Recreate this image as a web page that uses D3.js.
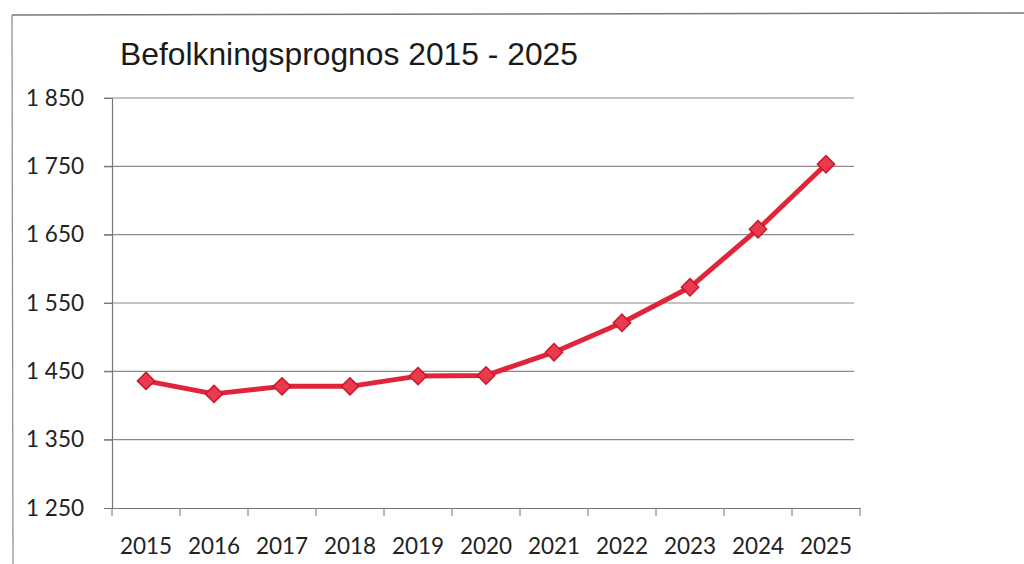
<!DOCTYPE html>
<html>
<head>
<meta charset="utf-8">
<script src="https://cdn.jsdelivr.net/npm/d3@7"></script>
<style>
  body { margin: 0; background: #fff; }
  .tick text { font-family: Lato, "Open Sans", sans-serif; font-size: 22.5px; fill: #222; }
</style>
</head>
<body>
<div id="chart"></div>
<script>
// Data
const years = ['2015', '2016', '2017', '2018', '2019', '2020', '2021', '2022', '2023', '2024', '2025'];
const population = [1436, 1417, 1428, 1428, 1443, 1444, 1478, 1521, 1573, 1658, 1753];
const yTicks = [1250, 1350, 1450, 1550, 1650, 1750, 1850];

const width = 1024, height = 564;
const margin = { top: 98, right: 164, bottom: 56, left: 112 };
const innerW = width - margin.left - margin.right;
const innerH = height - margin.top - margin.bottom;

const svg = d3.select('#chart').append('svg')
  .attr('width', width)
  .attr('height', height);

// Outer frame of the scanned chart
svg.append('line').attr('x1', 12).attr('y1', 15).attr('x2', 1024).attr('y2', 13)
  .attr('stroke', '#777').attr('stroke-width', 1.5);
svg.append('line').attr('x1', 12).attr('y1', 15).attr('x2', 13).attr('y2', 564)
  .attr('stroke', '#888').attr('stroke-width', 1.2);

const g = svg.append('g').attr('transform', `translate(${margin.left}, ${margin.top})`);

const xScale = d3.scaleBand().domain(years).range([0, innerW]);
const yScale = d3.scaleLinear().domain([1250, 1850]).range([innerH, 0]);

// Gridlines
g.selectAll('.grid')
  .data(yTicks.slice(1))
  .enter()
  .append('line')
  .attr('x1', -8)
  .attr('x2', innerW - 6)
  .attr('y1', (d) => yScale(d))
  .attr('y2', (d) => yScale(d))
  .attr('stroke', '#8a8a8a')
  .attr('stroke-width', 1.2);

// Y axis
const yAxis = g.append('g')
  .call(d3.axisLeft(yScale).tickValues(yTicks).tickSize(8).tickPadding(20)
    .tickFormat((d) => d3.format(',')(d).replace(',', '\u00a0')));
yAxis.select('.domain').attr('stroke', '#777').attr('stroke-width', 1.2);
yAxis.selectAll('.tick line').attr('stroke', '#777');

// X axis with ticks on band boundaries
const xAxis = g.append('g')
  .attr('transform', `translate(0, ${innerH})`)
  .call(d3.axisBottom(xScale).tickSize(0).tickPadding(30));
xAxis.select('.domain').attr('stroke', '#777').attr('stroke-width', 1.2);
xAxis.selectAll('.bound')
  .data(years.concat(['end']))
  .enter()
  .append('line')
  .attr('x1', (d, i) => i * xScale.step())
  .attr('x2', (d, i) => i * xScale.step())
  .attr('y1', 0)
  .attr('y2', 8)
  .attr('stroke', '#777');

// Line
const points = years.map((y, i) => ({ year: y, value: population[i] }));
const line = d3.line()
  .x((d) => xScale(d.year) + xScale.bandwidth() / 2)
  .y((d) => yScale(d.value));

g.append('path')
  .datum(points)
  .attr('d', line)
  .attr('fill', 'none')
  .attr('stroke', '#e0243a')
  .attr('stroke-width', 5)
  .attr('stroke-linejoin', 'round');

// Diamond markers
g.selectAll('.marker')
  .data(points)
  .enter()
  .append('path')
  .attr('d', d3.symbol().type(d3.symbolDiamond2).size(190))
  .attr('transform', (d) => `translate(${xScale(d.year) + xScale.bandwidth() / 2}, ${yScale(d.value)})`)
  .attr('fill', '#ea3b4e')
  .attr('stroke', '#c8182c')
  .attr('stroke-width', 1.5);

// Title
svg.append('text')
  .attr('x', 120)
  .attr('y', 65)
  .style('font-family', '"Liberation Sans", Arial, sans-serif')
  .style('font-size', '32px')
  .style('fill', '#1a1a1a')
  .attr('textLength', 458)
  .attr('lengthAdjust', 'spacingAndGlyphs')
  .text('Befolkningsprognos 2015 - 2025');
</script>
</body>
</html>
